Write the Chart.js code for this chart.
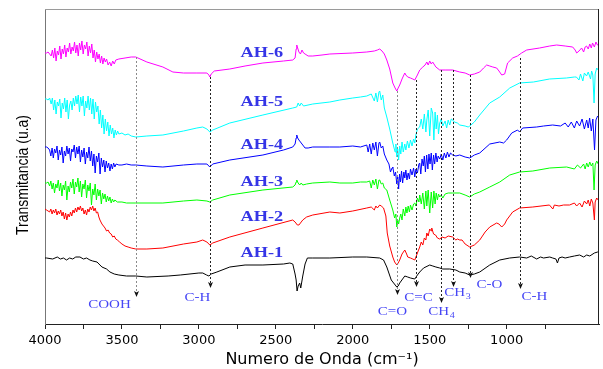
<!DOCTYPE html>
<html>
<head>
<meta charset="utf-8">
<script src="https://cdn.jsdelivr.net/npm/chart.js@4.4.1/dist/chart.umd.min.js"></script>
<style>
html,body{margin:0;padding:0;background:#fff;}
canvas{display:block;}
</style>
</head>
<body>
<canvas id="c" width="603" height="369"></canvas>
<script>
// ---- Data (wavenumber cm-1, transmittance in arbitrary stacked units) ----
const seriesNames = ['AH-1','AH-2','AH-3','AH-4','AH-5','AH-6'];
const seriesColors = ['#000000','#ff0000','#00ff00','#0000ff','#00ffff','#ff00ff'];
const xTickLabels = [4000,3500,3000,2500,2000,1500,1000,500];

const ah6 = [[4000,271],[3990,271],[3980,272],[3970,270],
[3960,268],[3952,274],[3944,266],[3936,276],[3928,263],[3920,273],[3912,269],[3904,278],[3896,265],[3888,275],[3880,270],[3872,279],[3864,267],[3856,276],[3848,272],[3840,281],[3832,270],[3824,277],[3816,273],[3808,282],[3800,271],[3792,279],[3784,268],[3776,281],[3768,274],[3760,283],[3752,270],[3744,279],[3736,275],[3728,282],[3720,268],[3712,278],[3704,271],[3696,280],[3688,266],[3680,274],[3672,262],[3664,272],[3656,265],[3648,270],[3640,261],[3632,268],[3624,260],[3616,266],[3608,262],[3600,265],[3590,259],[3580,262],[3570,258],[3560,263],[3550,260],[3540,264],[3520,265],[3480,266],[3440,267],[3410,267],
[3338,262],[3234,257],[3169,252],[3100,251],[3013,251],[2948,251],[2935,249],[2929,247],[2920,250],[2900,253],[2799,255],[2700,258],[2584,261],[2450,263],[2390,264],[2375,266],[2368,275],[2364,279],[2358,276],[2350,272],[2340,270],[2330,274],[2320,271],[2310,270],[2290,268],[2260,268],[2200,269],[2149,270],[2000,271],[1909,272],[1860,273],[1840,274],[1825,275],[1810,273],[1795,270],[1779,264],[1760,255],[1740,241],[1725,236],[1714,233],[1705,236],[1695,239],[1680,245],[1662,251],[1655,249],[1643,247],[1625,246],[1610,245],[1597,244],[1580,249],[1565,254],[1545,257],[1530,259],[1519,262],[1510,259],[1500,263],[1490,260],[1481,262],[1460,257],[1435,254],[1400,254],[1351,254],[1305,252],[1270,251],[1240,249],[1210,250],[1175,252],[1150,256],[1130,259],[1110,258],[1090,257],[1065,256],[1050,253],[1032,249],[1013,250],[994,261],[961,266],[930,268],[903,271],[870,274],[786,276],[720,278],[675,279],[620,278],[571,277],[555,274],[545,271],[530,273],[513,276],[500,272],[490,277],[481,278],[470,275],[460,280],[450,276],[442,281],[430,277],[420,282],[410,279],[400,280]];

const ah5 = [[4000,225],[3990,225],[3980,224],[3970,226],
[3960,220],[3952,226],[3944,214],[3936,224],[3928,210],[3920,222],[3912,218],[3904,225],[3896,206],[3888,221],[3880,215],[3872,226],[3864,212],[3856,224],[3848,205],[3840,219],[3832,223],[3824,214],[3816,226],[3808,218],[3800,228],[3792,220],[3784,229],[3776,212],[3768,227],[3760,218],[3752,228],[3744,208],[3736,223],[3728,216],[3720,228],[3712,214],[3704,226],[3696,210],[3688,225],[3680,205],[3672,222],[3664,212],[3656,218],[3648,200],[3640,214],[3632,196],[3624,209],[3616,190],[3608,205],[3600,193],[3592,202],[3584,188],[3576,199],[3568,190],[3560,196],[3552,186],[3544,194],[3536,189],[3528,193],[3520,190],[3500,191],[3480,189],[3460,190],[3440,188],[3410,187],
[3338,188],[3234,189],[3100,193],[3013,196],[2975,197],[2948,195],[2929,192],[2910,194],[2799,201],[2584,209],[2390,216],[2364,217],[2355,221],[2345,218],[2335,221],[2320,218],[2260,220],[2149,222],[2084,224],[2000,226],[1950,227],[1909,228],[1880,230],[1860,223],[1850,231],[1840,222],[1830,232],[1825,233],[1815,224],[1805,229],[1795,216],[1779,207],[1760,195],[1740,181],[1725,172],[1720,180],[1714,167],[1708,175],[1702,164],[1695,178],[1688,170],[1680,182],[1672,172],[1662,180],[1655,174],[1645,183],[1635,176],[1625,184],[1615,178],[1605,185],[1597,181],[1590,189],[1580,195],[1565,197],[1555,205],[1545,195],[1535,210],[1525,192],[1519,204],[1510,214],[1500,188],[1490,216],[1481,211],[1473,184],[1465,212],[1458,195],[1450,209],[1443,190],[1435,201],[1425,205],[1415,198],[1400,203],[1390,196],[1380,204],[1370,199],[1360,205],[1351,204],[1340,202],[1320,201],[1305,199],[1270,198],[1250,197],[1240,198],[1210,202],[1175,209],[1110,221],[1045,227],[980,236],[916,241],[826,242],[722,245],[612,246],[560,247],[547,247],[530,244],[520,250],[505,243],[495,251],[481,248],[470,252],[455,245],[448,253],[440,249],[432,221],[425,250],[415,256],[405,254],[400,255]];

const ah4 = [[4000,177],[3990,177],[3980,176],
[3970,174],[3962,168],[3954,176],[3946,166],[3938,175],[3930,171],[3922,178],[3914,164],[3906,174],[3898,169],[3890,177],[3882,161],[3874,173],[3866,168],[3858,178],[3850,170],[3842,176],[3834,163],[3826,175],[3818,172],[3810,179],[3802,166],[3794,177],[3786,170],[3778,178],[3770,162],[3762,174],[3754,167],[3746,176],[3738,160],[3730,172],[3722,166],[3714,177],[3706,163],[3698,173],[3690,158],[3682,170],[3674,151],[3666,168],[3658,162],[3650,171],[3642,150],[3634,166],[3626,157],[3618,164],[3610,152],[3602,163],[3594,156],[3586,161],[3578,153],[3570,160],[3562,155],[3554,161],[3546,157],[3538,160],[3520,159],[3500,159],[3470,160],[3440,159],[3410,159],
[3338,158],[3234,157],[3100,159],[3013,160],[2948,160],[2929,157],[2910,160],[2799,164],[2584,169],[2450,174],[2390,177],[2375,180],[2368,186],[2364,189],[2358,186],[2350,184],[2340,182],[2330,180],[2310,176],[2290,176],[2260,177],[2149,177],[2084,177],[2000,178],[1950,177],[1909,179],[1900,172],[1890,180],[1880,170],[1870,181],[1860,174],[1850,182],[1840,168],[1830,181],[1825,182],[1815,176],[1805,178],[1795,170],[1779,164],[1765,160],[1755,152],[1745,156],[1740,157],[1730,148],[1722,152],[1714,140],[1708,147],[1702,135],[1696,150],[1690,142],[1683,153],[1676,141],[1668,152],[1662,146],[1655,154],[1648,144],[1640,151],[1632,145],[1625,155],[1615,149],[1605,156],[1597,147],[1590,155],[1580,151],[1570,160],[1565,161],[1558,150],[1550,165],[1542,158],[1535,168],[1528,152],[1520,169],[1512,155],[1505,170],[1498,160],[1490,171],[1483,154],[1475,169],[1468,160],[1460,171],[1452,162],[1445,168],[1435,165],[1425,170],[1415,164],[1405,171],[1395,166],[1385,172],[1375,167],[1365,171],[1351,169],[1330,168],[1305,169],[1270,167],[1240,166],[1210,169],[1175,171],[1110,180],[1045,182],[1020,181],[1000,184],[967,191],[929,194],[916,192],[896,196],[805,197],[760,198],[701,199],[650,198],[620,201],[600,197],[580,202],[560,196],[545,203],[526,198],[510,205],[495,195],[480,204],[470,196],[461,206],[450,193],[440,205],[429,174],[420,204],[409,208],[400,206]];

const ah3 = [[4000,141],[3990,141],[3980,142],
[3970,138],[3962,143],[3954,135],[3946,141],[3938,131],[3930,140],[3922,136],[3914,144],[3906,133],[3898,141],[3890,128],[3882,139],[3874,134],[3866,143],[3858,124],[3850,138],[3842,132],[3834,142],[3826,136],[3818,145],[3810,130],[3802,142],[3794,137],[3786,146],[3778,132],[3770,143],[3762,127],[3754,140],[3746,135],[3738,144],[3730,126],[3722,139],[3714,133],[3706,141],[3698,119],[3690,135],[3682,129],[3674,140],[3666,124],[3658,135],[3650,128],[3642,134],[3634,120],[3626,131],[3618,125],[3610,130],[3602,122],[3594,128],[3586,123],[3578,127],[3570,121],[3562,125],[3554,122],[3546,124],[3530,122],[3500,122],[3470,121],[3410,121],
[3234,121],[3100,123],[3013,124],[2948,123],[2929,122],[2910,124],[2799,129],[2584,134],[2390,137],[2375,139],[2368,142],[2364,144],[2355,141],[2345,139],[2335,141],[2325,139],[2300,140],[2260,141],[2149,142],[2084,141],[2000,141],[1950,142],[1909,142],[1890,143],[1880,136],[1870,144],[1860,139],[1850,145],[1840,135],[1830,144],[1825,144],[1815,140],[1805,141],[1795,136],[1779,134],[1760,124],[1740,114],[1728,106],[1720,110],[1714,97],[1708,104],[1702,100],[1695,106],[1688,110],[1680,104],[1672,115],[1662,108],[1655,117],[1648,111],[1640,118],[1632,112],[1625,119],[1615,114],[1605,120],[1597,121],[1590,118],[1580,126],[1570,122],[1565,129],[1555,120],[1545,131],[1535,115],[1525,133],[1519,118],[1510,134],[1500,111],[1490,132],[1481,116],[1473,133],[1465,120],[1458,131],[1450,124],[1443,130],[1435,127],[1425,129],[1415,126],[1400,130],[1380,131],[1351,131],[1305,131],[1270,129],[1240,127],[1210,130],[1175,132],[1110,137],[1045,142],[980,149],[916,152],[830,153],[720,156],[610,157],[560,155],[540,159],[520,156],[500,160],[490,155],[480,161],[470,157],[460,162],[450,158],[440,161],[432,134],[425,159],[415,163],[405,160],[400,161]];

const ah2 = [[4000,115],[3990,114],[3980,113],
[3970,112],[3962,115],[3954,110],[3946,114],[3938,111],[3930,115],[3922,109],[3914,113],[3906,110],[3898,114],[3890,108],[3882,112],[3874,105],[3866,111],[3858,104],[3850,110],[3842,107],[3834,112],[3826,108],[3818,114],[3810,111],[3802,116],[3794,112],[3786,117],[3778,114],[3770,118],[3762,113],[3754,116],[3746,110],[3738,114],[3730,109],[3722,115],[3714,112],[3706,117],[3698,114],[3690,118],[3682,113],[3674,116],[3666,111],[3658,112],[3650,107],[3643,104],[3630,100],[3620,98],[3610,96],[3600,93],[3590,94],[3580,91],[3570,90],[3560,87],[3550,88],[3540,85],[3530,84],[3515,82],[3500,80],[3480,78],[3460,77],[3440,76],[3410,75],
[3338,75],[3234,76],[3100,80],[3013,82],[2975,84],[2948,82],[2929,79],[2910,81],[2799,87],[2584,96],[2390,104],[2375,102],[2360,99],[2350,99],[2340,101],[2325,104],[2300,107],[2260,109],[2149,112],[2084,111],[2000,113],[1909,116],[1880,117],[1860,114],[1850,118],[1840,116],[1825,119],[1815,118],[1800,116],[1785,108],[1776,91],[1760,78],[1740,67],[1728,62],[1714,59],[1705,61],[1695,64],[1680,70],[1662,74],[1650,70],[1643,67],[1625,66],[1610,65],[1597,64],[1580,71],[1565,77],[1555,82],[1545,79],[1535,86],[1525,84],[1519,91],[1510,88],[1500,95],[1490,93],[1487,96],[1475,90],[1462,89],[1450,86],[1435,85],[1420,87],[1400,86],[1380,88],[1351,87],[1330,84],[1320,85],[1305,84],[1290,84],[1270,80],[1240,77],[1210,79],[1175,84],[1140,92],[1110,97],[1065,101],[1050,100],[1032,97],[1013,100],[1000,104],[961,112],[916,116],[830,117],[722,119],[700,115],[690,119],[660,118],[630,119],[591,119],[560,121],[545,118],[526,121],[510,117],[495,123],[480,120],[470,124],[460,118],[450,125],[440,121],[430,104],[425,122],[415,126],[405,124],[400,125]];

const ah1 = [[4000,66],[3990,66],[3950,65],[3920,67],[3900,65],[3880,66],[3860,64],[3840,66],[3820,65],[3800,67],[3773,67],[3750,65],[3730,66],[3708,64],[3690,63],[3662,62],[3630,57],[3600,55],[3578,52],[3550,50],[3520,49],[3470,48],[3410,48],[3338,47],[3200,48],[3121,49],[3000,51],[2975,51],[2950,49],[2935,48],[2920,50],[2883,52],[2799,57],[2700,59],[2584,59],[2450,60],[2409,61],[2390,60],[2375,50],[2368,44],[2362,33],[2355,38],[2345,41],[2338,36],[2325,48],[2310,60],[2295,66],[2260,66],[2149,66],[2000,67],[1909,67],[1825,66],[1800,64],[1779,57],[1750,44],[1714,37],[1705,38],[1695,41],[1662,48],[1643,47],[1625,46],[1597,45],[1580,49],[1565,52],[1540,56],[1500,59],[1480,58],[1460,57],[1435,56],[1415,55],[1370,55],[1330,54],[1305,52],[1270,51],[1240,49],[1210,50],[1175,52],[1110,59],[1045,64],[980,66],[916,67],[870,66],[840,68],[805,65],[780,67],[760,66],[720,67],[701,66],[680,65],[670,61],[660,66],[640,67],[620,66],[591,67],[560,68],[526,69],[500,67],[480,69],[460,68],[430,71],[409,72],[400,72]];

const seriesData = [ah1, ah2, ah3, ah4, ah5, ah6];

// series label anchor (wavenumber, level) for each AH label
const seriesLabelWn = 2591;
const seriesLabelLevel = [71, 107, 142, 179, 222, 271];

// band assignments: wavenumber, top level (on AH-6), arrow tip level
const bandText = ['COOH','C-H','C=O','C=C','CH','CH','C-O','C-H'];
const bandSub  = ['','','','','4','3','',''];
const bandWn   = [3410, 2929, 1710, 1591, 1424, 1349, 1236, 911];
const bandTop  = [267, 247, 233, 244, 254, 254, 249, 266];
const bandTip  = [27, 36, 29, 37, 21, 37, 46, 35];
// label layout (pixel offsets from arrow tip) and line colour
const bandLayout = [
  {dx:-27, dy:8,  c:'#8a8a8a'},
  {dx:-13, dy:10, c:'#222'},
  {dx:-5,  dy:17, c:'#8a8a8a'},
  {dx:2,   dy:11, c:'#222'},
  {dx:0,   dy:9,  c:'#222'},
  {dx:4,   dy:6,  c:'#222'},
  {dx:19,  dy:7,  c:'#222'},
  {dx:14,  dy:8,  c:'#222'}
];

function stretchedText(ctx, text, sub, cx, cy, font, subFont, sx) {
  ctx.save();
  ctx.translate(cx, cy);
  ctx.scale(sx, 1);
  ctx.textBaseline = 'middle';
  ctx.textAlign = 'left';
  ctx.font = font;
  const w1 = ctx.measureText(text).width;
  let w2 = 0;
  if (sub) { ctx.font = subFont; w2 = ctx.measureText(sub).width + 0.5; }
  const start = -(w1 + w2) / 2;
  ctx.font = font;
  ctx.fillText(text, start, 0);
  if (sub) { ctx.font = subFont; ctx.fillText(sub, start + w1 + 0.5, 4); }
  ctx.restore();
}

const overlay = {
  id: 'overlay',
  afterDatasetsDraw(chart) {
    const {ctx, scales: {x, y}, chartArea: a} = chart;
    ctx.save();
    // frame top and right
    ctx.lineWidth = 1;
    ctx.strokeStyle = '#9a9a9a';
    ctx.beginPath(); ctx.moveTo(a.left, a.top + 0.5); ctx.lineTo(a.right, a.top + 0.5); ctx.stroke();
    ctx.strokeStyle = '#222';
    ctx.beginPath(); ctx.moveTo(a.right - 0.5, a.top); ctx.lineTo(a.right - 0.5, a.bottom); ctx.stroke();

    // band lines + arrows + labels
    for (let i = 0; i < bandWn.length; i++) {
      const L = bandLayout[i];
      const px = Math.round(x.getPixelForValue(bandWn[i])) + 0.5;
      const y1 = y.getPixelForValue(bandTop[i]);
      const y2 = y.getPixelForValue(bandTip[i]);
      ctx.setLineDash([2, 2]);
      ctx.strokeStyle = L.c;
      ctx.lineWidth = 1;
      ctx.beginPath(); ctx.moveTo(px, y1); ctx.lineTo(px, y2 - 4); ctx.stroke();
      ctx.setLineDash([]);
      ctx.fillStyle = '#111';
      ctx.beginPath(); ctx.moveTo(px, y2); ctx.lineTo(px - 2.5, y2 - 6); ctx.lineTo(px, y2 - 4.5); ctx.lineTo(px + 2.5, y2 - 6); ctx.closePath(); ctx.fill();
      ctx.fillStyle = '#4646f5';
      stretchedText(ctx, bandText[i], bandSub[i], px + L.dx, y2 + L.dy, '12px "Liberation Serif"', '8px "Liberation Serif"', 1.25);
    }

    // series labels
    ctx.fillStyle = '#3535e6';
    const lx = x.getPixelForValue(seriesLabelWn);
    for (let i = 0; i < seriesNames.length; i++) {
      stretchedText(ctx, seriesNames[i], '', lx, y.getPixelForValue(seriesLabelLevel[i]), 'bold 15px "Liberation Serif"', '', 1.22);
    }

    // y axis title
    ctx.save();
    ctx.translate(23, 175);
    ctx.rotate(-Math.PI / 2);
    ctx.scale(1, 1.2);
    ctx.fillStyle = '#000';
    ctx.font = '14px "Liberation Sans"';
    ctx.textAlign = 'center';
    ctx.textBaseline = 'middle';
    ctx.fillText('Transmitancia (u.a)', 0, 0);
    ctx.restore();

    ctx.restore();
  }
};

new Chart(document.getElementById('c'), {
  type: 'line',
  data: {
    datasets: seriesData.map((d, i) => ({
      label: seriesNames[i],
      data: d.map(p => ({x: p[0], y: p[1]})),
      borderColor: seriesColors[i],
      borderWidth: 1,
      pointRadius: 0,
      tension: 0,
      fill: false
    }))
  },
  options: {
    responsive: false,
    animation: false,
    devicePixelRatio: 1,
    layout: {padding: {top: 9, right: 4, left: 0, bottom: 0}},
    plugins: {legend: {display: false}, tooltip: {enabled: false}},
    scales: {
      x: {
        type: 'linear', reverse: true, min: 400, max: 4000,
        ticks: {
          stepSize: 250, autoSkip: false, maxRotation: 0, padding: 4, color: '#000',
          font: {family: 'DejaVu Sans', size: 13},
          callback: v => xTickLabels.includes(v) ? String(v) : ''
        },
        grid: {
          drawOnChartArea: false, drawTicks: true, tickLength: 5, tickWidth: 1,
          tickColor: c => (c.tick && c.tick.value === 400) ? 'rgba(0,0,0,0)' : '#222'
        },
        border: {color: '#222', width: 1},
        title: {display: true, text: 'Numero de Onda (cm⁻¹)', color: '#000',
                font: {family: 'DejaVu Sans', size: 16}, padding: {top: 0, bottom: 0}},
        afterFit: s => { s.height = 45; }
      },
      y: {
        min: 0, max: 315,
        ticks: {display: false},
        grid: {display: false, drawTicks: false},
        border: {color: '#777', width: 1},
        afterFit: s => { s.width = 45; }
      }
    }
  },
  plugins: [overlay]
});
</script>
</body>
</html>
